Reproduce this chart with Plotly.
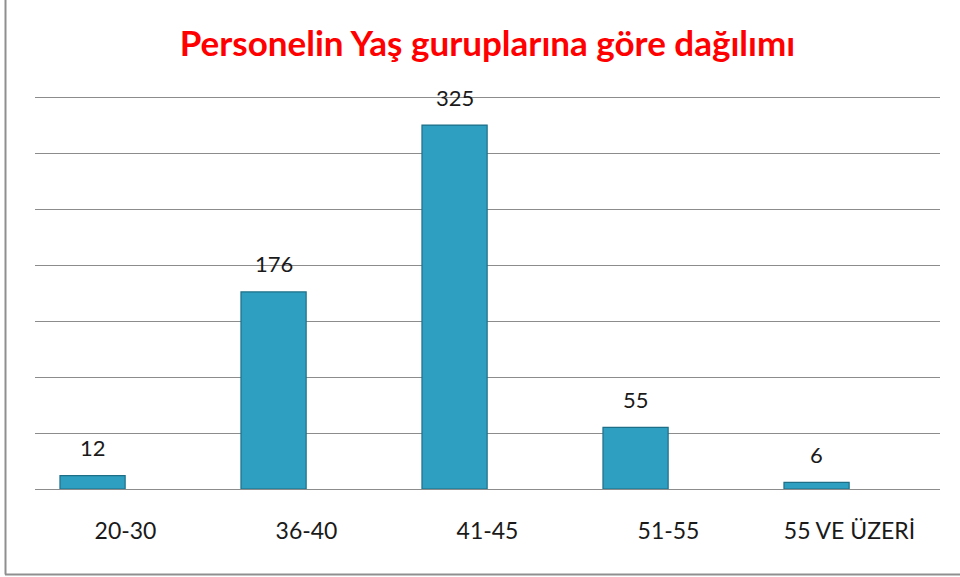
import plotly.graph_objects as go

categories = ["20-30", "36-40", "41-45", "51-55", "55 VE ÜZERİ"]
values = [12, 176, 325, 55, 6]
title_text = "Personelin Yaş guruplarına göre dağılımı"

FONT = "Lato, 'Open Sans', sans-serif"

BAR_W = 0.36
BAR_OFF = -0.362  # bars sit left of the category centre, as in the original

fig = go.Figure()
fig.add_trace(go.Bar(
    x=categories,
    y=values,
    width=BAR_W,
    offset=BAR_OFF,
    marker=dict(color="#2f9fc1", line=dict(color="#1d6f88", width=1.2)),
    hoverinfo="x+y",
))

# plot area geometry
L, R, T, B = 35, 20, 96, 88
W, H = 960, 577
pw, ph = W - L - R, H - T - B
cat_px = pw / len(categories)
label_xshift = (BAR_OFF + BAR_W / 2) * cat_px

for c, v in zip(categories, values):
    fig.add_annotation(x=c, y=v, text=str(v), showarrow=False,
                       yanchor="middle", yshift=28, xshift=label_xshift,
                       font=dict(family=FONT, size=22, color="#1a1a1a"))

def px_to_paper_x(px):
    return (px - L) / pw

def px_to_paper_y(py):
    return (H - B - py) / ph

frame = "#8f8f8f"
fig.add_shape(type="line", xref="paper", yref="paper",
              x0=px_to_paper_x(5.5), x1=px_to_paper_x(5.5),
              y0=px_to_paper_y(0), y1=px_to_paper_y(574.5),
              line=dict(color=frame, width=2))
fig.add_shape(type="line", xref="paper", yref="paper",
              x0=px_to_paper_x(5), x1=px_to_paper_x(960),
              y0=px_to_paper_y(574.5), y1=px_to_paper_y(574.5),
              line=dict(color=frame, width=2))

fig.update_layout(
    width=W, height=H,
    margin=dict(l=L, r=R, t=T, b=B),
    paper_bgcolor="white",
    plot_bgcolor="white",
    showlegend=False,
    title=dict(text=f"<b>{title_text}</b>", x=0.5, xref="paper", xanchor="center",
               y=1 - 44 / H, yref="container", yanchor="middle",
               font=dict(family=FONT, size=35, color="#ff0000")),
    xaxis=dict(showline=False, ticks="", showgrid=False,
               tickfont=dict(family=FONT, size=23, color="#1a1a1a"),
               ticklabelstandoff=26),
    yaxis=dict(range=[0, 351], dtick=50, showticklabels=False,
               showgrid=True, gridcolor="#8c8c8c", gridwidth=1,
               zeroline=True, zerolinecolor="#8c8c8c", zerolinewidth=1,
               showline=False, ticks=""),
)

fig.write_html("out.html", config={"displayModeBar": False},
               post_script="document.body.style.margin='0';")
